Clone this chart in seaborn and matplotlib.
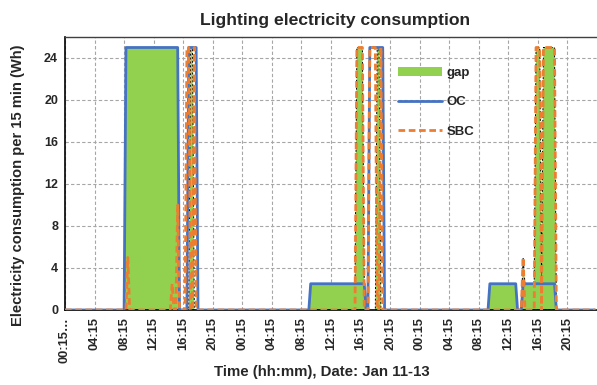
import numpy as np
import pandas as pd
import matplotlib
matplotlib.use("Agg")
import matplotlib.pyplot as plt
import seaborn as sns
from matplotlib.patches import Patch
from matplotlib.lines import Line2D

# ---- data ----
n_points = 288  # 15-min intervals, Jan 11-13
# runs of (first index, last index, value); every other interval is 0
oc_runs = [(33, 61, 25), (67, 71, 25), (133, 162, 2.5), (165, 172, 25),
           (230, 244, 2.5), (248, 265, 2.5)]
sbc_runs = [(34, 34, 5), (58, 58, 2.5), (61, 61, 10), (66, 67, 25), (70, 70, 25),
            (158, 161, 25), (165, 168, 25), (171, 171, 25),
            (248, 248, 5), (255, 257, 25), (259, 265, 25)]
gap_runs = [(33, 61, 25), (68, 69, 25), (133, 157, 2.5), (158, 161, 25), (162, 162, 2.5),
            (169, 170, 25), (230, 244, 2.5), (248, 248, 5), (249, 254, 2.5),
            (255, 257, 25), (258, 258, 2.5), (259, 265, 25)]
tick_labels = ["00:15…", "04:15", "08:15", "12:15", "16:15", "20:15",
               "00:15", "04:15", "08:15", "12:15", "16:15", "20:15",
               "00:15", "04:15", "08:15", "12:15", "16:15", "20:15"]
y_ticks = [0, 4, 8, 12, 16, 20, 24]


def expand(runs):
    arr = np.zeros(n_points)
    for a, b, v in runs:
        arr[a:b + 1] = v
    return arr


idx = np.arange(n_points)
df = pd.DataFrame({"t": idx, "OC": expand(oc_runs), "SBC": expand(sbc_runs),
                   "gap": expand(gap_runs)})

sns.set_style("white")
plt.rcParams["font.family"] = ["Liberation Sans", "DejaVu Sans"]
plt.rcParams["font.weight"] = "bold"

fig = plt.figure(figsize=(5.97, 3.85), dpi=100)
ax = fig.add_axes([65 / 597, (385 - 310) / 385, 532 / 597, 273 / 385])

# gap area
g = df["gap"].values
mask = (g > 0) | (np.roll(g, 1) > 0) | (np.roll(g, -1) > 0)
ax.fill_between(df["t"], 0, g, where=mask, color="#92D050", zorder=2,
                edgecolor="none", linewidth=0)
ax.fill_between(df["t"], 0, g, where=mask, facecolor="none", edgecolor="black",
                linewidth=0.7, linestyle=(0, (2, 2)), zorder=2.5)

sns.lineplot(data=df, x="t", y="OC", color="#4472C4", linewidth=2, ax=ax,
             legend=False, zorder=3)
sns.lineplot(data=df, x="t", y="SBC", color="#ED7D31", linewidth=2, ax=ax,
             legend=False, zorder=4)
ax.lines[-1].set_dashes([2.4, 1.3])

ax.set_xlim(0, n_points)
ax.set_ylim(0, 26)
ax.set_xticks(np.arange(0, n_points, 16))
ax.set_xticklabels(tick_labels, rotation=90, fontsize=9.3, fontweight="bold")
ax.set_yticks(y_ticks)
ax.set_yticklabels([str(v) for v in y_ticks], fontsize=9, fontweight="bold")
ax.tick_params(axis="both", direction="in", length=4, color="black", width=0.8, pad=5)
ax.grid(True, which="major", color="#A6A6A6", linestyle=(0, (3, 2)), linewidth=0.8)
ax.set_axisbelow(True)

for s in ["left", "bottom"]:
    ax.spines[s].set_color("black")
    ax.spines[s].set_linewidth(1.2)
ax.spines["top"].set_color("#404040")
ax.spines["top"].set_linewidth(1.0)
ax.spines["right"].set_visible(False)

ax.set_xlabel("Time (hh:mm), Date: Jan 11-13", fontsize=10.8, fontweight="bold")
ax.set_ylabel("Electricity consumption per 15 min (Wh)", fontsize=10.6, fontweight="bold")
ax.xaxis.set_label_coords((322 - 65) / 532, (310 - 372) / 273)
ax.xaxis.label.set_va("center")
ax.yaxis.set_label_coords((18 - 65) / 532, (310 - 185) / 273)
ax.yaxis.label.set_va("center")
fig.text(335 / 597, 1 - 21 / 385, "Lighting electricity consumption", ha="center",
         va="center", fontsize=12.6, fontweight="bold")

handles = [Patch(facecolor="#92D050", edgecolor="none"),
           Line2D([0], [0], color="#4472C4", lw=2),
           Line2D([0], [0], color="#ED7D31", lw=2, dashes=[2.4, 1.3])]
leg = ax.legend(handles, ["gap", "OC", "SBC"], loc="upper left",
                bbox_to_anchor=((398 - 65) / 532, (310 - 67) / 273),
                frameon=False, handlelength=3.3, handleheight=0.65, labelspacing=1.32,
                handletextpad=0.4, borderpad=0, borderaxespad=0,
                prop={"weight": "bold", "size": 9.5})

fig.savefig("out.png", dpi=100)
